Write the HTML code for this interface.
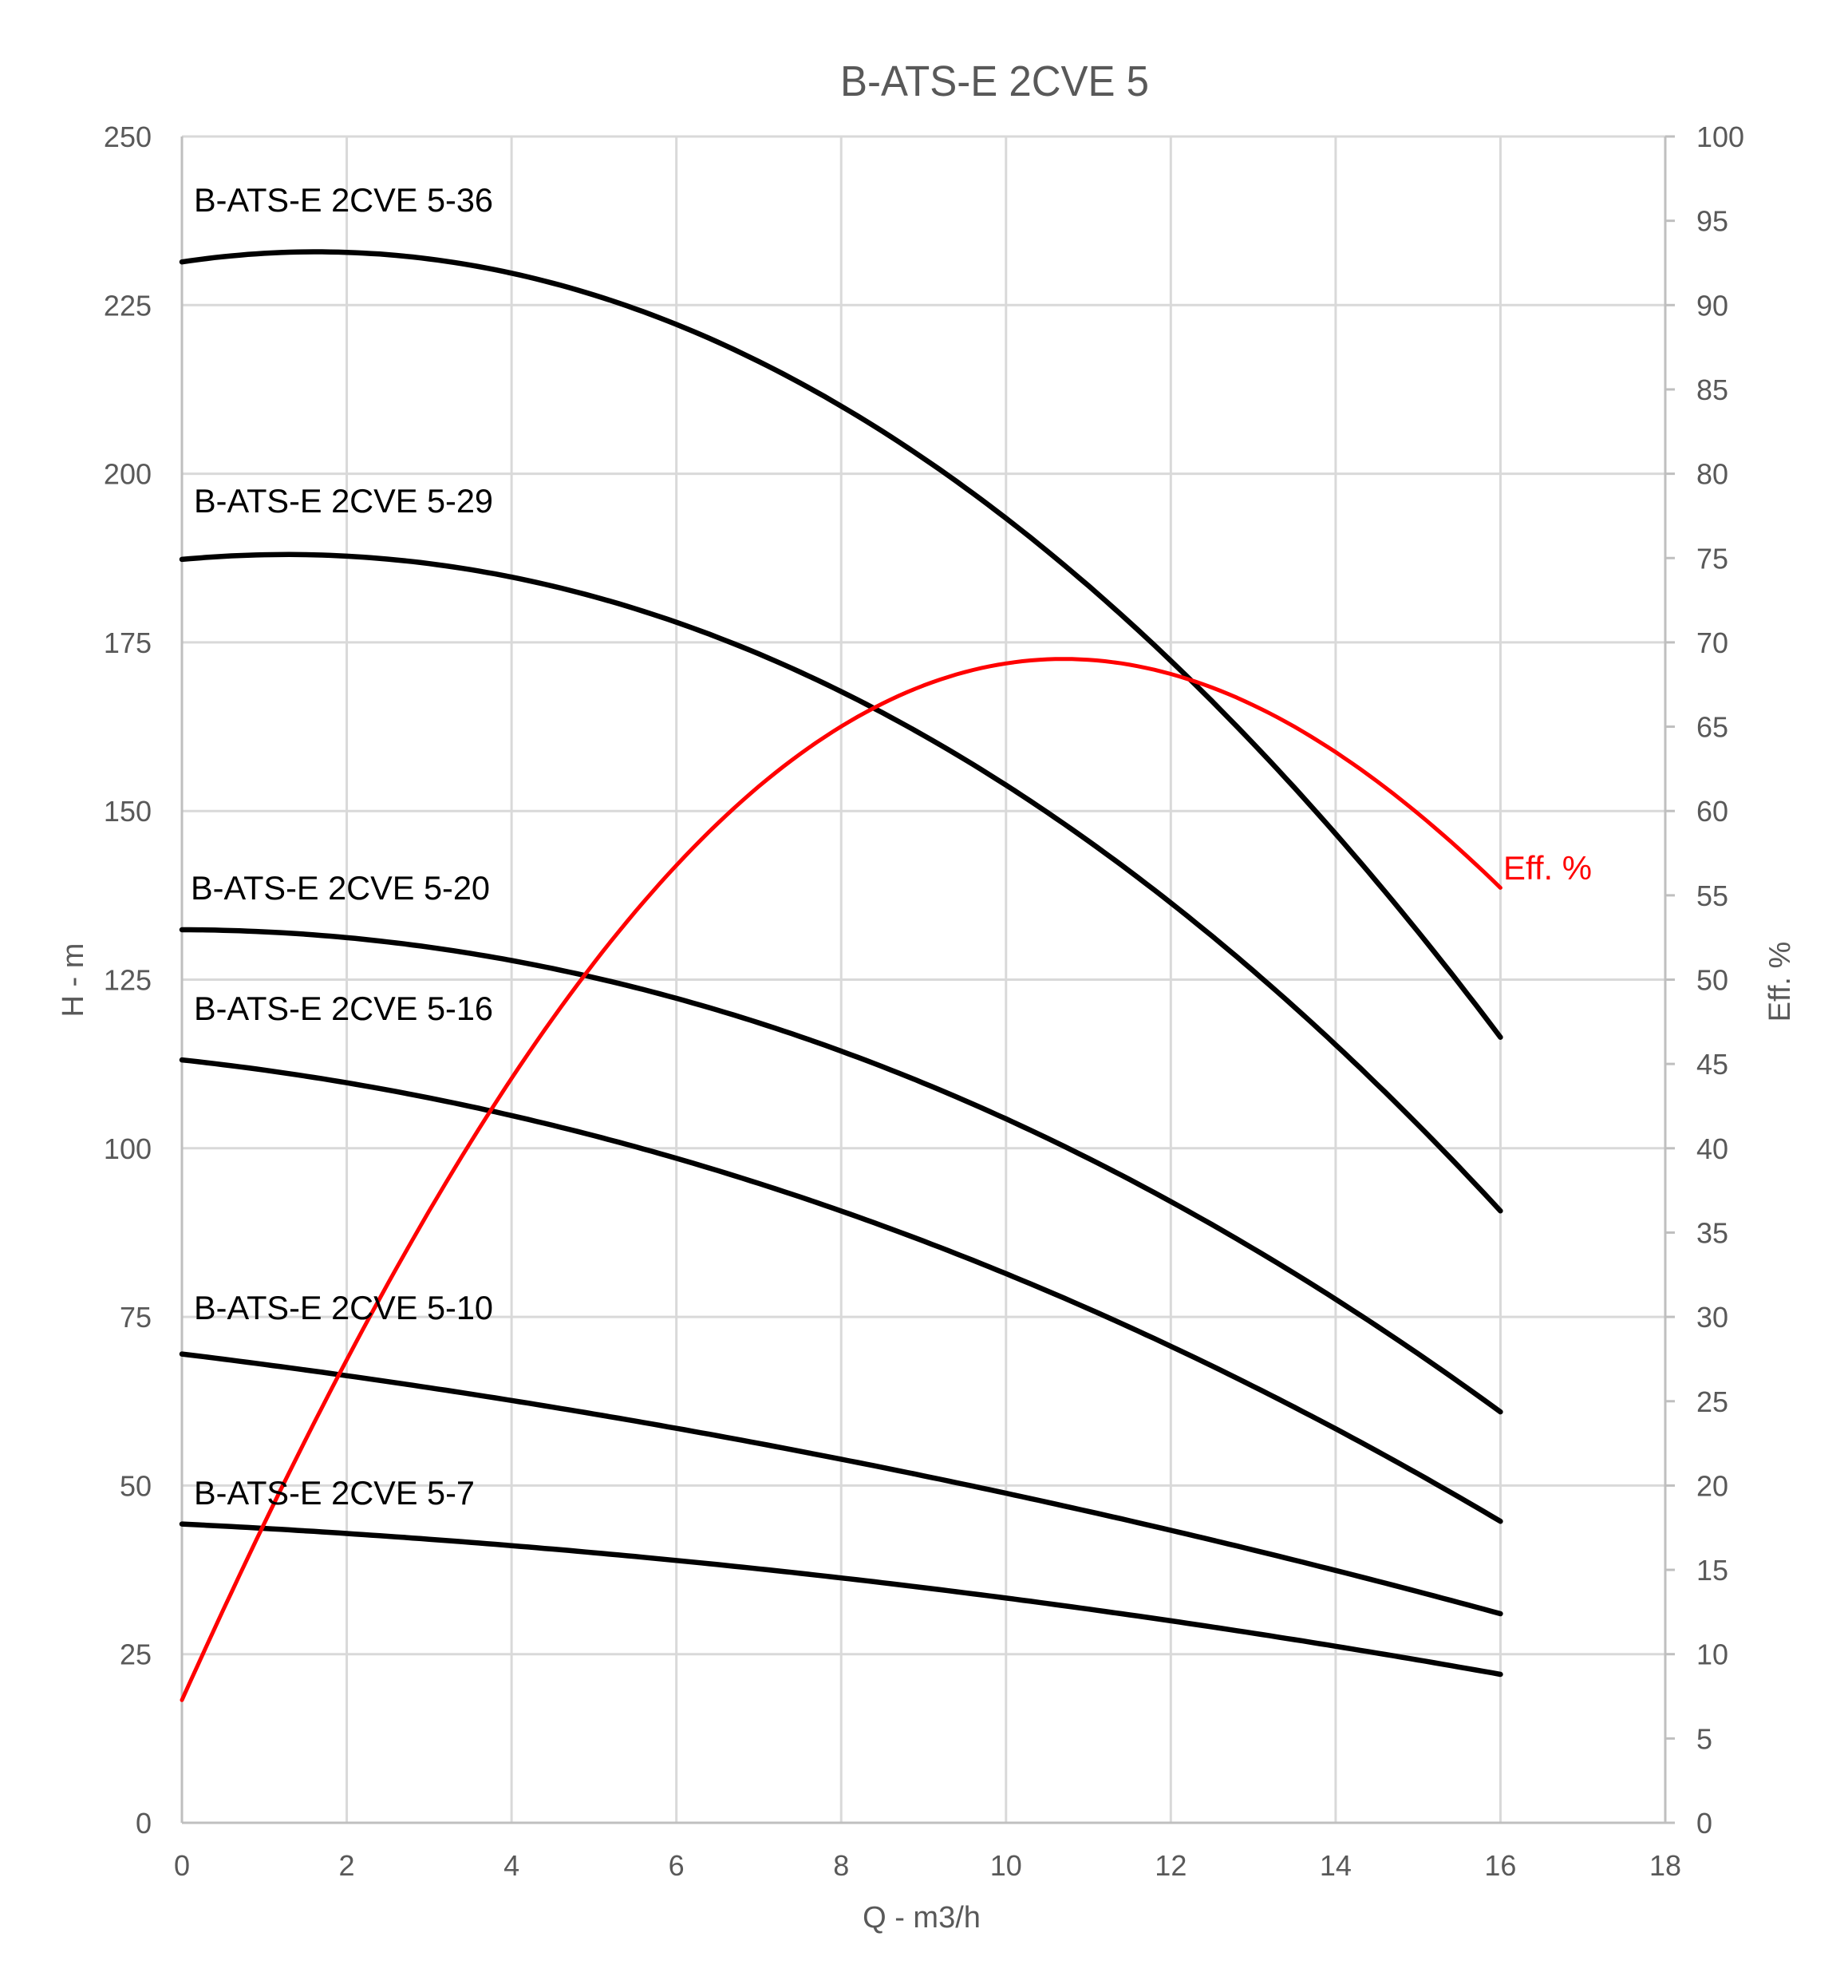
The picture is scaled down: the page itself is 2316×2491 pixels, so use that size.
<!DOCTYPE html>
<html><head><meta charset="utf-8">
<style>
html,body{margin:0;padding:0;background:#fff;}
svg{display:block;}
text{font-family:"Liberation Sans",Arial,sans-serif;}
</style></head>
<body>
<svg id="c" width="2316" height="2491" viewBox="0 0 2316 2491" xmlns="http://www.w3.org/2000/svg">
<rect width="2316" height="2491" fill="#fff"/>
<g id="grid"></g>
<g id="curves"></g>
<text x="1053" y="120" font-size="54" fill="#595959" textLength="387" lengthAdjust="spacingAndGlyphs">B-ATS-E 2CVE 5</text>
<g font-size="42" fill="#000">
<text x="243" y="265" textLength="375" lengthAdjust="spacingAndGlyphs">B-ATS-E 2CVE 5-36</text>
<text x="243" y="642" textLength="375" lengthAdjust="spacingAndGlyphs">B-ATS-E 2CVE 5-29</text>
<text x="239" y="1127" textLength="375" lengthAdjust="spacingAndGlyphs">B-ATS-E 2CVE 5-20</text>
<text x="243" y="1278" textLength="375" lengthAdjust="spacingAndGlyphs">B-ATS-E 2CVE 5-16</text>
<text x="243" y="1653" textLength="375" lengthAdjust="spacingAndGlyphs">B-ATS-E 2CVE 5-10</text>
<text x="243" y="1885" textLength="352" lengthAdjust="spacingAndGlyphs">B-ATS-E 2CVE 5-7</text>
</g>
<text x="1884" y="1102" font-size="42" fill="#ff0000" textLength="111" lengthAdjust="spacingAndGlyphs">Eff. %</text>
<text x="1155" y="2415" font-size="38" fill="#595959" text-anchor="middle">Q - m3/h</text>
<text transform="translate(104,1228) rotate(-90)" font-size="38" fill="#595959" text-anchor="middle">H - m</text>
<text transform="translate(2243,1230) rotate(-90)" font-size="38" fill="#595959" text-anchor="middle">Eff. %</text>
</svg>
<script>
(function(){
var NS="http://www.w3.org/2000/svg";
var L=228,R=2087,T=171,B=2284;
var xs=(R-L)/18, hs=(B-T)/250, es=(B-T)/100;
function X(q){return L+q*xs;}
function HY(h){return B-h*hs;}
function EY(e){return B-e*es;}
var grid=document.getElementById('grid');
function el(tag,attrs,parent,txt){var e=document.createElementNS(NS,tag);for(var k in attrs)e.setAttribute(k,attrs[k]);if(txt!==undefined)e.textContent=txt;parent.appendChild(e);return e;}
for(var h=25;h<=250;h+=25){el('line',{x1:L,x2:R,y1:HY(h),y2:HY(h),stroke:'#d9d9d9','stroke-width':3},grid);}
for(var q=2;q<=16;q+=2){el('line',{x1:X(q),x2:X(q),y1:T,y2:B,stroke:'#d9d9d9','stroke-width':3},grid);}
el('line',{x1:L,x2:L,y1:T,y2:B,stroke:'#bfbfbf','stroke-width':3},grid);
el('line',{x1:L,x2:R+12,y1:B,y2:B,stroke:'#bfbfbf','stroke-width':3},grid);
el('line',{x1:R,x2:R,y1:T,y2:B,stroke:'#bfbfbf','stroke-width':3},grid);
for(var e=0;e<=100;e+=5){el('line',{x1:R,x2:R+12,y1:EY(e),y2:EY(e),stroke:'#bfbfbf','stroke-width':3},grid);
 el('text',{x:2126,y:EY(e)+13,'font-size':36,fill:'#595959'},grid,String(e));}
for(var h=0;h<=250;h+=25){el('text',{x:190,y:HY(h)+13,'font-size':36,fill:'#595959','text-anchor':'end'},grid,String(h));}
for(var q=0;q<=18;q+=2){el('text',{x:X(q),y:2350,'font-size':36,fill:'#595959','text-anchor':'middle'},grid,String(q));}
var quad=[
 [231.4,1.84,-0.564],
 [187.3,1.1375,-0.4484],
 [132.4,-0.031,-0.2773],
 [113.1,-1.325,-0.1844],
 [69.5,-1.494,-0.057],
 [44.3,-0.606,-0.0492]
];
var cg=document.getElementById('curves');
quad.forEach(function(c){
 var d='';
 for(var i=0;i<=160;i++){var q=i/10;var h=c[0]+c[1]*q+c[2]*q*q;d+=(i?' L':'M')+X(q).toFixed(1)+','+HY(h).toFixed(1);}
 el('path',{d:d,fill:'none',stroke:'#000','stroke-width':6.5,'stroke-linecap':'round','stroke-linejoin':'round'},cg);
});
// efficiency: least-squares polynomial fit degree 4
var eff=[7.2,12.8,17.9,22.8,27.3,31.8,35.9,40.2,44.2,47.7,50.9,54.2,57.3,59.7,61.8,63.4,64.7,66.0,67.1,68.0,68.6,68.9,69.0,68.9,68.4,67.5,66.3,64.9,63.3,61.8,60.0,57.8,55.3];
var deg=4,n=deg+1,A=[],bv=[];
for(var i=0;i<n;i++){A.push(new Array(n).fill(0));bv.push(0);}
eff.forEach(function(v,k){var q=k*0.5/16;for(var i=0;i<n;i++){for(var j=0;j<n;j++)A[i][j]+=Math.pow(q,i+j);bv[i]+=v*Math.pow(q,i);}});
for(var i=0;i<n;i++){var p=i;for(var r=i+1;r<n;r++)if(Math.abs(A[r][i])>Math.abs(A[p][i]))p=r;
 var t=A[i];A[i]=A[p];A[p]=t;var tb=bv[i];bv[i]=bv[p];bv[p]=tb;
 for(var r=0;r<n;r++){if(r===i)continue;var f=A[r][i]/A[i][i];for(var j=i;j<n;j++)A[r][j]-=f*A[i][j];bv[r]-=f*bv[i];}}
var co=[];for(var i=0;i<n;i++)co.push(bv[i]/A[i][i]);
var d='';
for(var i=0;i<=160;i++){var q=i/10,u=q/16,v=0;for(var j=0;j<n;j++)v+=co[j]*Math.pow(u,j);d+=(i?' L':'M')+X(q).toFixed(1)+','+EY(v).toFixed(1);}
el('path',{d:d,fill:'none',stroke:'#ff0000','stroke-width':5,'stroke-linecap':'round','stroke-linejoin':'round'},cg);
})();
</script>
</body></html>
